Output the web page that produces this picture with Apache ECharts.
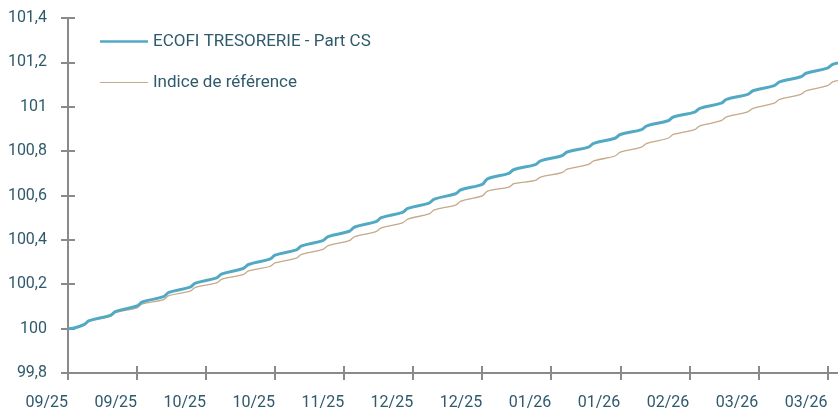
<!DOCTYPE html>
<html>
<head>
<meta charset="utf-8">
<script src="https://cdn.jsdelivr.net/npm/echarts@6/dist/echarts.min.js"></script>
<style>
  html, body { margin: 0; padding: 0; background: #fff; }
  #chart { width: 838px; height: 413px; }
</style>
</head>
<body>
<div id="chart"></div>
<script>
// business-day index of each sampled point (Friday / Monday corners)
const days = [0, 1, 3, 4, 8, 9, 13, 14, 18, 19, 23, 24, 28, 29, 33, 34, 38, 39, 43, 44,
  48, 49, 53, 54, 58, 59, 63, 64, 68, 69, 73, 74, 78, 79, 83, 84, 88, 89, 93, 94,
  98, 99, 103, 104, 108, 109, 113, 114, 118, 119, 123, 124, 128, 129, 133, 134, 138, 139, 143, 144, 145];

const fund = [100.000, 100.002, 100.018, 100.036, 100.060, 100.078, 100.102, 100.120, 100.144, 100.163,
  100.187, 100.205, 100.229, 100.247, 100.271, 100.289, 100.313, 100.331, 100.355, 100.373,
  100.397, 100.415, 100.439, 100.458, 100.482, 100.500, 100.524, 100.542, 100.566, 100.584,
  100.608, 100.626, 100.650, 100.675, 100.700, 100.717, 100.739, 100.756, 100.779, 100.796,
  100.818, 100.835, 100.858, 100.875, 100.897, 100.914, 100.937, 100.954, 100.976, 100.993,
  101.016, 101.033, 101.056, 101.072, 101.095, 101.112, 101.135, 101.151, 101.174, 101.191, 101.197];

const bench = [100.000, 100.001, 100.016, 100.034, 100.055, 100.072, 100.094, 100.111, 100.131, 100.149,
  100.169, 100.186, 100.206, 100.223, 100.243, 100.260, 100.280, 100.296, 100.318, 100.335,
  100.357, 100.374, 100.397, 100.415, 100.437, 100.454, 100.477, 100.494, 100.517, 100.535,
  100.557, 100.575, 100.598, 100.620, 100.638, 100.653, 100.668, 100.683, 100.703, 100.719,
  100.740, 100.756, 100.778, 100.795, 100.818, 100.835, 100.858, 100.875, 100.897, 100.914,
  100.937, 100.954, 100.977, 100.993, 101.016, 101.033, 101.056, 101.072, 101.095, 101.112, 101.118];

const tickLabels = ['09/25', '09/25', '10/25', '10/25', '11/25', '12/25', '12/25',
  '01/26', '01/26', '02/26', '03/26', '03/26'];
const yTicks = [99.8, 100, 100.2, 100.4, 100.6, 100.8, 101, 101.2, 101.4];
const tickStep = 13; // business days between labels
const lastDay = 145;

const fundName = 'ECOFI TRESORERIE - Part CS';
const benchName = 'Indice de référence';

const fundColor = '#52a9c4';
const benchColor = '#c4a98b';
const textColor = '#2e5a6c';
const axisColor = '#8a8a8a';
const font = 'Roboto, sans-serif';

const tickDays = tickLabels.map((_, i) => i * tickStep);

let myChart = echarts.init(document.getElementById('chart'));

function xAxisOf(inner) {
    return {
        type: 'value',
        min: 0,
        max: lastDay,
        position: 'bottom',
        splitLine: { show: false },
        axisLine: { show: true, lineStyle: { color: axisColor, width: 2, opacity: inner ? 0 : 1 } },
        axisTick: { show: true, inside: inner, length: 7, lineStyle: { color: axisColor, width: 2 }, customValues: tickDays },
        axisLabel: {
            show: !inner,
            color: textColor, fontSize: 16, fontFamily: font, margin: 22, align: 'right',
            customValues: tickDays,
            formatter: (v) => tickLabels[Math.round(v / tickStep)] || ''
        }
    };
}
function yAxisOf(inner) {
    return {
        type: 'value',
        min: 99.8,
        max: 101.4,
        interval: 0.2,
        position: 'left',
        splitLine: { show: false },
        axisLine: { show: true, lineStyle: { color: axisColor, width: 2, opacity: inner ? 0 : 1 } },
        axisTick: { show: true, inside: inner, length: 7, lineStyle: { color: axisColor, width: 2 }, customValues: yTicks },
        axisLabel: {
            show: !inner,
            color: textColor, fontSize: 16, fontFamily: font, margin: 21,
            customValues: yTicks,
            formatter: (v) => String(+v.toFixed(1)).replace('.', ',')
        }
    };
}

let option = {
    animation: false,
    grid: { left: 68, right: 0, top: 18, bottom: 40, containLabel: false },
    legend: {
        data: [
            { name: fundName, icon: 'path://M0,0H48V2.4H0Z' },
            { name: benchName, icon: 'path://M0,0H48V1.2H0Z' }
        ],
        orient: 'vertical',
        left: 100,
        top: 33,
        padding: 0,
        itemWidth: 48,
        itemHeight: 16,
        itemGap: 24,
        textStyle: { color: textColor, fontSize: 17, fontFamily: font, lineHeight: 16 }
    },
    // the second axis of each pair draws the inner half of the crossing ticks
    xAxis: [xAxisOf(false), xAxisOf(true)],
    yAxis: [yAxisOf(false), yAxisOf(true)],
    series: [
        {
            name: benchName,
            type: 'line',
            symbol: 'none',
            smooth: 0.35,
            lineStyle: { color: benchColor, width: 1.3 },
            itemStyle: { color: benchColor },
            data: days.map((d, i) => [d, bench[i]])
        },
        {
            name: fundName,
            type: 'line',
            symbol: 'none',
            smooth: 0.35,
            lineStyle: { color: fundColor, width: 3 },
            itemStyle: { color: fundColor },
            data: days.map((d, i) => [d, fund[i]])
        }
    ]
};
myChart.setOption(option);
</script>
</body>
</html>
